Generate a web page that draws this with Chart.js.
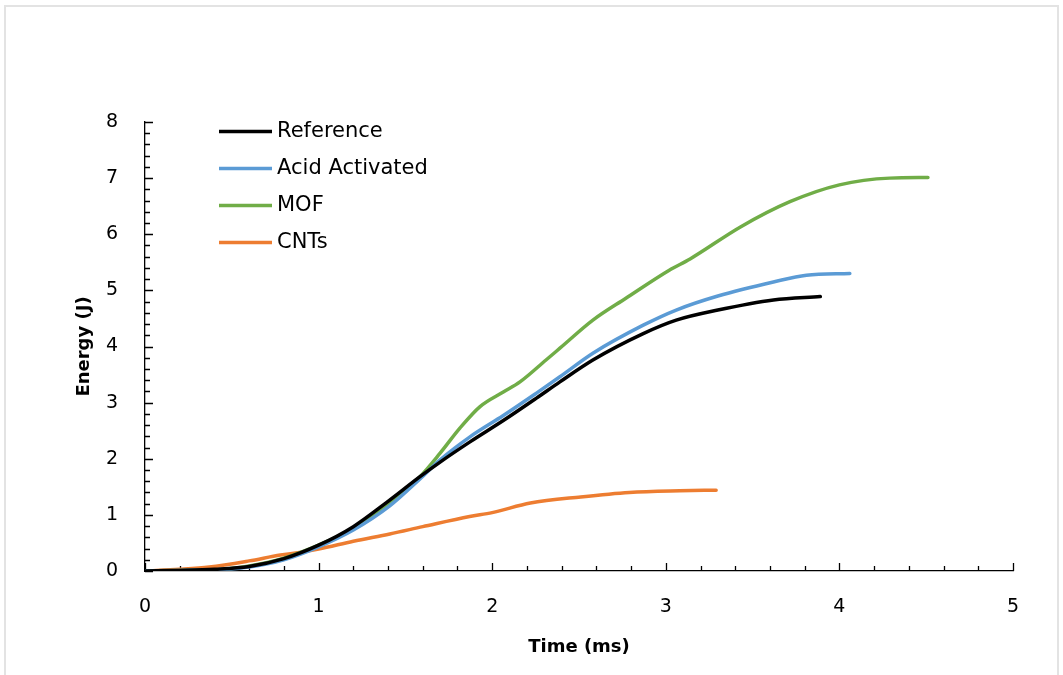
<!DOCTYPE html>
<html>
<head>
<meta charset="utf-8">
<script src="https://cdn.jsdelivr.net/npm/chart.js@4/dist/chart.umd.min.js"></script>
<style>
  html, body { margin: 0; padding: 0; background: #fff; }
  #wrap { position: relative; width: 1063px; height: 675px; }
</style>
</head>
<body>
<div id="wrap"><canvas id="energyChart" width="1063" height="675"></canvas></div>
<script>
// ---- data: energy (J) vs time (ms) ----
var refTime  = [0, 0.2, 0.4, 0.6, 0.8, 1.0, 1.2, 1.4, 1.584, 1.7, 1.872, 2.064, 2.255, 2.39, 2.58, 2.87, 3.06, 3.3, 3.62, 3.89];
var refEnergy = [0, 0.01, 0.03, 0.08, 0.22, 0.46, 0.79, 1.24, 1.68, 1.94, 2.3, 2.68, 3.08, 3.37, 3.76, 4.23, 4.47, 4.65, 4.83, 4.89];

var acidTime  = [0, 0.2, 0.4, 0.6, 0.8, 1.0, 1.2, 1.41, 1.584, 1.7, 1.872, 2.064, 2.255, 2.39, 2.58, 2.87, 3.06, 3.3, 3.62, 3.81, 4.06];
var acidEnergy = [0, 0.01, 0.02, 0.07, 0.2, 0.43, 0.73, 1.16, 1.64, 1.98, 2.39, 2.77, 3.17, 3.46, 3.88, 4.38, 4.65, 4.9, 5.15, 5.27, 5.3];

var mofTime  = [0, 0.2, 0.4, 0.6, 0.8, 1.0, 1.2, 1.41, 1.584, 1.7, 1.815, 1.93, 2.064, 2.16, 2.31, 2.39, 2.58, 2.77, 3.02, 3.14, 3.43, 3.715, 4.0, 4.29, 4.51];
var mofEnergy = [0, 0.01, 0.02, 0.09, 0.23, 0.46, 0.76, 1.21, 1.68, 2.1, 2.55, 2.93, 3.19, 3.37, 3.76, 3.97, 4.47, 4.86, 5.36, 5.56, 6.13, 6.58, 6.88, 7.0, 7.01];

var cntTime  = [0, 0.2, 0.37, 0.6, 0.78, 0.89, 1.0, 1.2, 1.41, 1.6, 1.87, 2.0, 2.22, 2.51, 2.79, 3.08, 3.29];
var cntEnergy = [0, 0.03, 0.07, 0.18, 0.285, 0.33, 0.39, 0.53, 0.66, 0.79, 0.97, 1.04, 1.21, 1.32, 1.4, 1.43, 1.44];

var seriesNames = ["Reference", "Acid Activated", "MOF", "CNTs"];
var seriesColors = ["#000000", "#5B9BD5", "#70AD47", "#ED7D31"];

var xMin = 0, xMax = 5, xStep = 0.2;
var yMin = 0, yMax = 8, yStep = 0.2;

var FONT = "DejaVu Sans";

function toPoints(xs, ys) {
    return xs.map(function(x, i) { return { x: x, y: ys[i] }; });
}

function isWhole(v) {
    return Math.abs(v - Math.round(v)) < 1e-6;
}

// ---- plugins ----
// white page with the thin grey frame
var frame = {
    id: "frame",
    beforeDraw: function(chart) {
        var ctx = chart.ctx;
        ctx.save();
        ctx.fillStyle = "#ffffff";
        ctx.fillRect(0, 0, chart.width, chart.height);
        ctx.strokeStyle = "#e3e3e3";
        ctx.lineWidth = 2;
        ctx.strokeRect(5, 6, 1053, 700);
        ctx.restore();
    }
};

// inside tick marks, longer on whole numbers
var insideTicks = {
    id: "insideTicks",
    beforeDatasetsDraw: function(chart) {
        var ctx = chart.ctx;
        var xs = chart.scales.x, ys = chart.scales.y;
        var area = chart.chartArea;
        ctx.save();
        ctx.strokeStyle = "#000";
        ctx.lineWidth = 1.3;
        ctx.beginPath();
        xs.ticks.forEach(function(t) {
            var px = Math.round(xs.getPixelForValue(t.value)) + 0.5;
            var len = isWhole(t.value) ? 8 : 5;
            ctx.moveTo(px, area.bottom);
            ctx.lineTo(px, area.bottom - len);
        });
        ys.ticks.forEach(function(t) {
            var py = Math.round(ys.getPixelForValue(t.value)) + 0.5;
            var len = isWhole(t.value) ? 8 : 5;
            ctx.moveTo(area.left, py);
            ctx.lineTo(area.left + len, py);
        });
        ctx.stroke();
        ctx.restore();
    }
};

// legend sitting inside the plot, top left
var insideLegend = {
    id: "insideLegend",
    afterDraw: function(chart) {
        var ctx = chart.ctx;
        ctx.save();
        chart.data.datasets.forEach(function(ds, i) {
            var y = 131.5 + i * 37;
            ctx.strokeStyle = ds.borderColor;
            ctx.lineWidth = 3.5;
            ctx.beginPath();
            ctx.moveTo(219, y);
            ctx.lineTo(272, y);
            ctx.stroke();
            ctx.fillStyle = "#000";
            ctx.font = "21px " + FONT;
            ctx.textBaseline = "middle";
            ctx.textAlign = "left";
            ctx.fillText(ds.label, 277, y);
        });
        ctx.restore();
    }
};

var pointSets = [
    toPoints(refTime, refEnergy),
    toPoints(acidTime, acidEnergy),
    toPoints(mofTime, mofEnergy),
    toPoints(cntTime, cntEnergy)
];

var datasets = pointSets.map(function(pts, i) {
    return {
        label: seriesNames[i],
        data: pts,
        borderColor: seriesColors[i],
        backgroundColor: seriesColors[i],
        borderWidth: 3.5,
        showLine: true,
        pointRadius: 0,
        tension: 0.4,
        cubicInterpolationMode: "monotone",
        borderCapStyle: "round"
    };
});

var ctx = document.getElementById("energyChart").getContext("2d");
new Chart(ctx, {
    type: "scatter",
    data: { datasets: datasets },
    plugins: [frame, insideTicks, insideLegend],
    options: {
        responsive: false,
        animation: false,
        layout: { padding: { top: 122, right: 50, left: 0, bottom: 0 } },
        plugins: {
            legend: { display: false },
            tooltip: { enabled: false }
        },
        scales: {
            x: {
                type: "linear",
                min: xMin, max: xMax,
                afterFit: function(s) { s.height = 104; },
                grid: { display: false, drawTicks: false },
                border: { display: true, color: "#000", width: 1.3 },
                ticks: {
                    stepSize: xStep,
                    autoSkip: false,
                    maxRotation: 0,
                    padding: 25,
                    color: "#000",
                    font: { family: FONT, size: 19 },
                    callback: function(v) { return isWhole(v) ? Math.round(v) : ""; }
                },
                title: {
                    display: true,
                    text: "Time (ms)",
                    color: "#000",
                    font: { family: FONT, size: 18, weight: "bold" },
                    padding: { top: 0, bottom: 17 }
                }
            },
            y: {
                type: "linear",
                min: yMin, max: yMax,
                afterFit: function(s) { s.width = 145; },
                grid: { display: false, drawTicks: false },
                border: { display: true, color: "#000", width: 1.3 },
                ticks: {
                    stepSize: yStep,
                    autoSkip: false,
                    padding: 27,
                    color: "#000",
                    font: { family: FONT, size: 19 },
                    callback: function(v) { return isWhole(v) ? Math.round(v) : ""; }
                },
                title: {
                    display: true,
                    text: "Energy (J)",
                    color: "#000",
                    font: { family: FONT, size: 18, weight: "bold" },
                    padding: { top: 74, bottom: 0 }
                }
            }
        }
    }
});
</script>
</body>
</html>
